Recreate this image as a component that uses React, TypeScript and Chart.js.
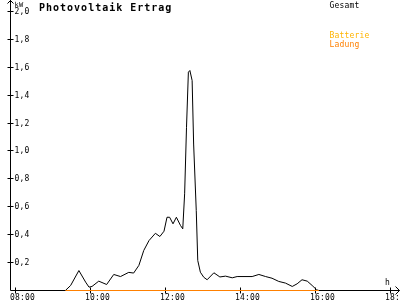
import React, { useEffect, useRef } from "react";
import { Chart, registerables } from "chart.js";

Chart.register(...registerables);

// ---- data ----
const title = "Photovoltaik Ertrag";
const yUnit = "kW";
const xUnit = "h";

const gesamtHours = [
  8.0, 9.33, 9.47, 9.69, 9.87, 9.96, 10.04, 10.22, 10.43, 10.62, 10.8, 11.02, 11.15,
  11.29, 11.42, 11.56, 11.73, 11.85, 11.96, 12.04, 12.11, 12.2, 12.29, 12.4, 12.46,
  12.51, 12.56, 12.61, 12.65, 12.71, 12.75, 12.82, 12.86, 12.93, 13.02, 13.11, 13.29,
  13.45, 13.6, 13.78, 13.91, 14.31, 14.49, 14.67, 14.84, 15.02, 15.2, 15.38, 15.51,
  15.64, 15.78, 15.91, 16.03, 16.09,
];
const gesamtValues = [
  0, 0, 0.036, 0.143, 0.06, 0.024, 0.029, 0.067, 0.043, 0.115, 0.1, 0.13, 0.125,
  0.18, 0.287, 0.358, 0.41, 0.387, 0.425, 0.525, 0.525, 0.478, 0.525, 0.466, 0.442,
  0.693, 1.17, 1.565, 1.577, 1.505, 1.05, 0.573, 0.215, 0.131, 0.095, 0.077, 0.127,
  0.097, 0.103, 0.091, 0.1, 0.1, 0.115, 0.1, 0.088, 0.065, 0.053, 0.029, 0.048,
  0.077, 0.067, 0.036, 0.005, 0,
];
const batterieHours: number[] = [];
const batterieValues: number[] = [];
const ladungHours = [9.33, 16.09];
const ladungValues = [0, 0];

const seriesLabels = ["Gesamt", "Batterie", "Ladung"];
const seriesColors = ["#000000", "#ffb400", "#ff8000"];

const yTicks = [0.2, 0.4, 0.6, 0.8, 1.0, 1.2, 1.4, 1.6, 1.8, 2.0];
const yTickLabels = ["0,2", "0,4", "0,6", "0,8", "1,0", "1,2", "1,4", "1,6", "1,8", "2,0"];
const xTicks = [8, 10, 12, 14, 16, 18];
const xTickLabels = ["08:00", "10:00", "12:00", "14:00", "16:00", "18:00"];

const X_MIN = 7.85333;
const X_MAX = 18.2;
const Y_MIN = -0.003584;
const Y_MAX = 2.068;

const toPoints = (xs: number[], ys: number[]) => xs.map((x, i) => ({ x, y: ys[i] }));

const SMALL_FONT = "8px 'DejaVu Sans Mono'";

const crisp = (v: number) => Math.floor(v) + 0.5;

const axesPlugin = {
  id: "customAxes",
  beforeDatasetsDraw(chart: any) {
    const ctx = chart.ctx as CanvasRenderingContext2D;
    const xs = chart.scales.x;
    const ys = chart.scales.y;
    const ax = crisp(chart.chartArea.left);
    const ay = crisp(ys.getPixelForValue(0));
    ctx.save();
    ctx.strokeStyle = "#000";
    ctx.fillStyle = "#000";
    ctx.lineWidth = 1;
    // y axis
    ctx.beginPath();
    ctx.moveTo(ax, 0);
    ctx.lineTo(ax, ay);
    ctx.stroke();
    // y arrow
    ctx.beginPath();
    ctx.moveTo(ax - 3, 3.5);
    ctx.lineTo(ax, 0.5);
    ctx.lineTo(ax + 3, 3.5);
    ctx.stroke();
    // x axis
    ctx.beginPath();
    ctx.moveTo(ax, ay);
    ctx.lineTo(399.5, ay);
    ctx.stroke();
    // x arrow
    ctx.beginPath();
    ctx.moveTo(395.5, ay - 4);
    ctx.lineTo(399.5, ay);
    ctx.lineTo(395.5, ay + 4);
    ctx.stroke();

    ctx.font = SMALL_FONT;
    (ctx as any).letterSpacing = "0.2px";
    // y ticks
    ctx.textAlign = "left";
    ctx.textBaseline = "middle";
    yTicks.forEach((v, i) => {
      const py = crisp(ys.getPixelForValue(v));
      ctx.beginPath();
      ctx.moveTo(ax - 3, py);
      ctx.lineTo(ax + 3, py);
      ctx.stroke();
      ctx.fillText(yTickLabels[i], ax + 4, py + 0.5);
    });
    // x ticks
    ctx.textBaseline = "alphabetic";
    xTicks.forEach((v, i) => {
      const px = crisp(xs.getPixelForValue(v));
      ctx.beginPath();
      ctx.moveTo(px, ay - 3);
      ctx.lineTo(px, ay + 3);
      ctx.stroke();
      ctx.fillText(xTickLabels[i], px - 5.5, 299.5);
    });
    // unit labels
    ctx.font = "7px 'DejaVu Sans Mono'";
    ctx.fillText(yUnit, ax + 4, 7);
    ctx.font = SMALL_FONT;
    ctx.fillText(xUnit, 385, 285);
    ctx.restore();
  },
  afterDraw(chart: any) {
    const ctx = chart.ctx as CanvasRenderingContext2D;
    ctx.save();
    // title
    ctx.font = "bold 10px 'DejaVu Sans Mono'";
    (ctx as any).letterSpacing = "1px";
    ctx.fillStyle = "#000";
    ctx.textAlign = "left";
    ctx.textBaseline = "alphabetic";
    ctx.fillText(title, 39, 10.5);
    // legend
    ctx.font = SMALL_FONT;
    (ctx as any).letterSpacing = "0.2px";
    const legendY = [7.5, 38, 46.5];
    chart.data.datasets.forEach((ds: any, i: number) => {
      ctx.fillStyle = ds.borderColor;
      ctx.fillText(ds.label, 329.5, legendY[i]);
    });
    ctx.restore();
  },
};

export default function App() {
  const canvasRef = useRef<HTMLCanvasElement | null>(null);

  useEffect(() => {
    if (!canvasRef.current) return;
    const chart = new Chart(canvasRef.current, {
      type: "line",
      data: {
        datasets: [
          {
            label: seriesLabels[0],
            data: toPoints(gesamtHours, gesamtValues),
            borderColor: seriesColors[0],
            borderWidth: 1,
            pointRadius: 0,
            tension: 0,
            order: 2,
          },
          {
            label: seriesLabels[1],
            data: toPoints(batterieHours, batterieValues),
            borderColor: seriesColors[1],
            borderWidth: 1,
            pointRadius: 0,
            order: 1,
          },
          {
            label: seriesLabels[2],
            data: toPoints(ladungHours, ladungValues),
            borderColor: seriesColors[2],
            borderWidth: 1,
            pointRadius: 0,
            order: 0,
          },
        ],
      },
      options: {
        responsive: false,
        animation: false,
        devicePixelRatio: 1,
        layout: { padding: { left: 10, right: 2, top: 2, bottom: 9 } },
        plugins: {
          legend: { display: false },
          tooltip: { enabled: false },
          title: { display: false },
        },
        scales: {
          x: { type: "linear", min: X_MIN, max: X_MAX, display: false },
          y: { type: "linear", min: Y_MIN, max: Y_MAX, display: false },
        },
      },
      plugins: [axesPlugin],
    });
    return () => chart.destroy();
  }, []);

  return (
    <div style={{ position: "fixed", left: 0, top: 0, width: 400, height: 300, background: "#fff" }}>
      <canvas ref={canvasRef} width={400} height={300} />
    </div>
  );
}
